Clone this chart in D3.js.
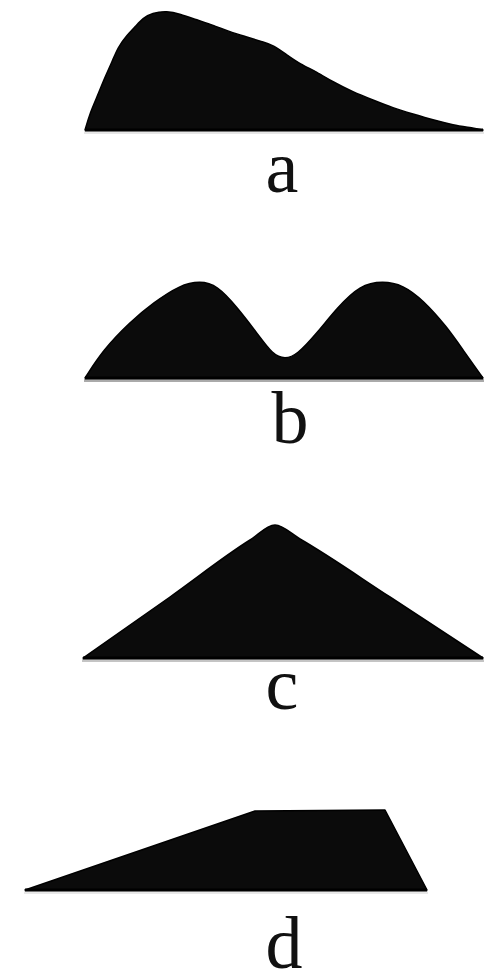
<!DOCTYPE html>
<html><head><meta charset="utf-8">
<script src="https://cdn.jsdelivr.net/npm/d3@7"></script>
<style>html,body{margin:0;padding:0;background:#fff;}svg{display:block;}</style>
</head><body>
<script>
// Categories (panel labels)
const categories = ["a", "b", "c", "d"];
// Series: x (position units) and y (height units) for each outline
const shapeAx = [6.0, 6.5, 7.2, 8.0, 8.7, 9.3, 10.2, 11.0, 11.8, 12.7, 14.2, 15.5, 17.2, 18.8, 20.5, 22.2, 23.8, 24.8, 26.2, 27.5, 29.2, 30.8, 32.8, 34.8, 36.8, 38.8, 40.8, 42.8, 44.8, 45.8];
const shapeAy = [0, 1.7, 3.3, 5.3, 6.8, 8.3, 9.5, 10.3, 11.2, 11.7, 11.9, 11.6, 11.0, 10.5, 9.8, 9.3, 8.8, 8.5, 7.5, 6.6, 5.8, 4.8, 3.8, 3.0, 2.2, 1.6, 1.0, 0.5, 0.2, 0];
const shapeBx = [6.0, 7.8, 10.5, 12.8, 15.5, 17.5, 19.2, 21.2, 23.2, 24.8, 26.0, 27.2, 29.2, 31.2, 33.5, 35.8, 37.8, 39.8, 42.2, 43.8, 45.8];
const shapeBy = [0, 2.8, 5.6, 7.5, 9.3, 9.7, 9.3, 7.1, 4.5, 2.3, 1.9, 2.3, 4.5, 7.0, 9.3, 9.7, 9.3, 7.8, 5.1, 2.8, 0];
const shapeCx = [5.8, 14.5, 22.5, 25.0, 27.5, 36.5, 45.8];
const shapeCy = [0, 6.1, 11.8, 13.3, 11.9, 6.1, 0];
const shapeDx = [0, 23.0, 36.0, 40.2];
const shapeDy = [0, 7.9, 8.0, 0];

const W = 485, H = 971;
const svg = d3.select("body").append("svg").attr("width", W).attr("height", H);

const x = d3.scaleLinear().domain([0, 46]).range([25, 485]);

// layout (pixels)
const baselines = [130, 378, 658, 890];
const labelOffsets = [62, 65, 51, 78];
const labelX = [25.7, 26.5, 25.7, 25.9];
const curves = [d3.curveBasis, d3.curveBasis, d3.curveMonotoneX, d3.curveLinear];
const shadowColors = ["#e6e6e6", "#aaaaaa", "#c4c4c4", "#e8e8e8"];

const series = [
  [shapeAx, shapeAy],
  [shapeBx, shapeBy],
  [shapeCx, shapeCy],
  [shapeDx, shapeDy]
];

series.forEach(([xs, ys], i) => {
  const base = baselines[i];
  const y = d3.scaleLinear().domain([0, 12]).range([base, base - 120]);
  const pts = xs.map((v, j) => [v, ys[j]]);
  const area = d3.area()
    .x(d => x(d[0]))
    .y0(y(0))
    .y1(d => y(d[1]))
    .curve(curves[i]);
  const g = svg.append("g");
  // soft shadow line beneath baseline
  g.append("line")
    .attr("x1", x(xs[0]) - 1).attr("x2", x(xs[xs.length - 1]) + 1)
    .attr("y1", y(0) + 2.5).attr("y2", y(0) + 2.5)
    .attr("stroke", shadowColors[i]).attr("stroke-width", 3);
  g.append("path")
    .datum(pts)
    .attr("d", area)
    .attr("fill", "#0b0b0b")
    .attr("stroke", "#000")
    .attr("stroke-width", 1.5)
    .attr("stroke-linejoin", "round");
  // baseline
  g.append("line")
    .attr("x1", x(xs[0])).attr("x2", x(xs[xs.length - 1]))
    .attr("y1", y(0)).attr("y2", y(0))
    .attr("stroke", "#000").attr("stroke-width", 3);
  g.append("text")
    .attr("x", x(labelX[i]))
    .attr("y", base + labelOffsets[i])
    .attr("text-anchor", "middle")
    .attr("font-family", "'Liberation Serif', 'DejaVu Serif', serif")
    .attr("font-size", 74)
    .attr("fill", "#111")
    .text(categories[i]);
});
</script>
</body></html>
